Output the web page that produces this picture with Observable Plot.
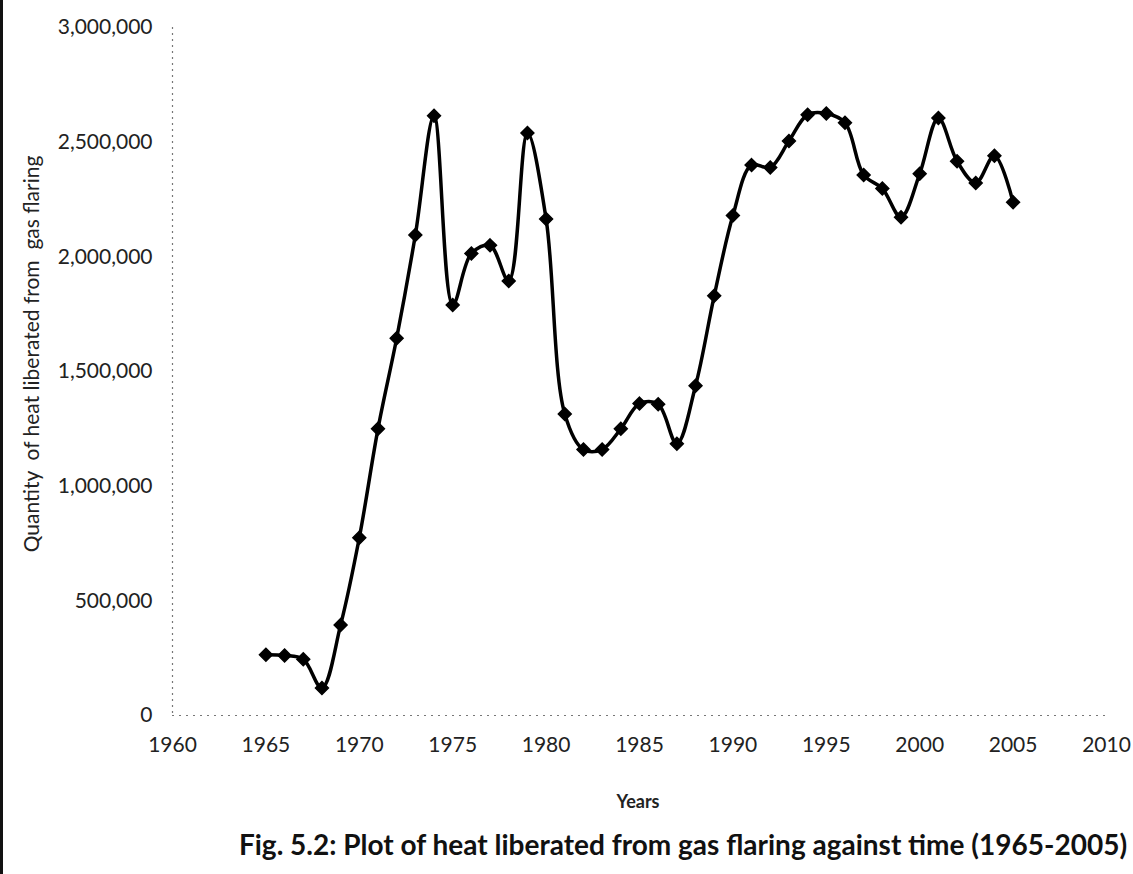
<!DOCTYPE html>
<html>
<head>
<meta charset="utf-8">
<script src="https://cdn.jsdelivr.net/npm/d3@7"></script>
<script src="https://cdn.jsdelivr.net/npm/@observablehq/plot@0.6"></script>
<style>
  html, body { margin: 0; padding: 0; background: #fff; }
  #page { position: relative; width: 1133px; height: 874px; overflow: hidden; border-left: 3px solid #111; box-sizing: border-box; }
  #chart { position: absolute; left: -3px; top: 0; }
  #ylabel { position: absolute; left: 27px; top: 354px; transform: translate(-50%, -50%) rotate(-90deg); white-space: pre; font-family: Lato, sans-serif; font-size: 21px; color: #222; }
  #xlabel { position: absolute; left: 0; top: 790px; width: 1270px; text-align: center; font-family: Lato, sans-serif; font-weight: bold; font-size: 18px; color: #222; }
  #caption { position: absolute; left: 0; top: 827px; width: 1360px; text-align: center; font-family: Lato, sans-serif; font-weight: bold; font-size: 28px; color: #111; }
</style>
</head>
<body>
<div id="page">
  <div id="chart"></div>
  <div id="ylabel"></div>
  <div id="xlabel">Years</div>
  <div id="caption">Fig. 5.2: Plot of heat liberated from gas flaring against time (1965-2005)</div>
</div>
<script>
const years = [1965,1966,1967,1968,1969,1970,1971,1972,1973,1974,1975,1976,1977,1978,1979,1980,1981,1982,1983,1984,1985,1986,1987,1988,1989,1990,1991,1992,1993,1994,1995,1996,1997,1998,1999,2000,2001,2002,2003,2004,2005];
const heat = [265000,262000,245000,120000,395000,775000,1250000,1645000,2095000,2615000,1790000,2015000,2050000,1895000,2540000,2165000,1315000,1160000,1160000,1250000,1360000,1357000,1185000,1438000,1830000,2180000,2400000,2390000,2505000,2620000,2625000,2585000,2357000,2298000,2173000,2362000,2605000,2417000,2322000,2441000,2238000];
const xTicks = [1960,1965,1970,1975,1980,1985,1990,1995,2000,2005,2010];
const yTicks = [0,500000,1000000,1500000,2000000,2500000,3000000];
const yLabel = "Quantity  of heat liberated from  gas flaring";

document.getElementById("ylabel").textContent = yLabel;

const data = years.map((y, i) => ({year: y, value: heat[i]}));

const chart = Plot.plot({
  width: 1133,
  height: 775,
  marginLeft: 172,
  marginRight: 27,
  marginTop: 27,
  marginBottom: 60,
  style: {fontFamily: "Lato, sans-serif", fontSize: "21px", color: "#222", background: "transparent"},
  x: {domain: [1960, 2010], ticks: xTicks, tickFormat: d => String(d), tickSize: 0, tickPadding: 22, label: null},
  y: {domain: [0, 3000000], ticks: yTicks, tickFormat: d3.format(","), tickSize: 0, tickPadding: 20, label: null},
  marks: [
    Plot.ruleX([1960], {stroke: "#777", strokeWidth: 1.2, strokeDasharray: "2,4"}),
    Plot.ruleY([0], {stroke: "#777", strokeWidth: 1.2, strokeDasharray: "2,5"}),
    Plot.line(data, {x: "year", y: "value", curve: "catmull-rom", stroke: "#000", strokeWidth: 3.5}),
    Plot.dot(data, {x: "year", y: "value", symbol: "diamond2", r: 5.8, fill: "#000", stroke: "#000", strokeWidth: 1.5})
  ]
});
document.getElementById("chart").appendChild(chart);
</script>
</body>
</html>
